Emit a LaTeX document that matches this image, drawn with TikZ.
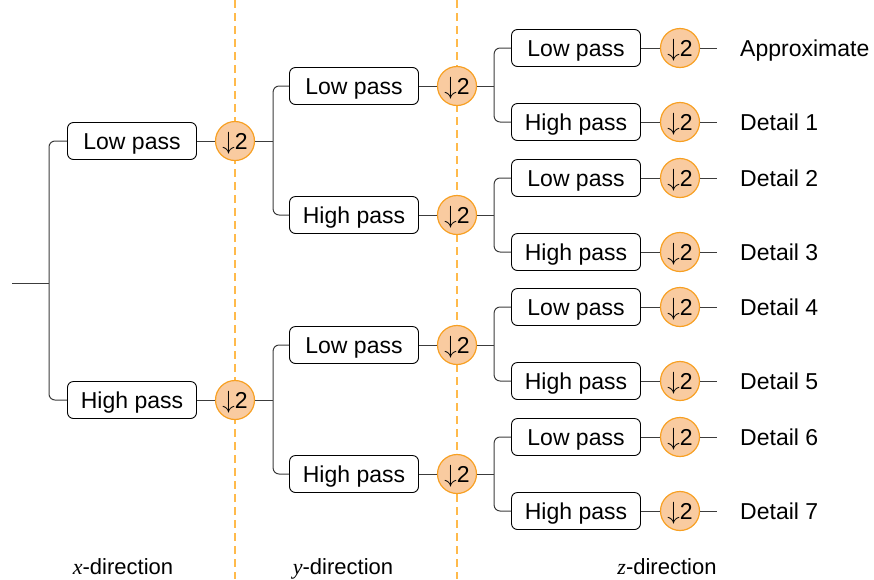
\documentclass[tikz,border=0pt]{standalone}
\usepackage{fontspec}
\setmainfont{Liberation Sans}
\newfontfamily\dirfont{Liberation Serif}

\definecolor{dsfill}{RGB}{249,203,160}
\definecolor{dsborder}{RGB}{247,160,35}
\definecolor{dashorange}{RGB}{255,186,75}
\definecolor{linegray}{RGB}{60,60,60}

\begin{document}
\begin{tikzpicture}[
    x=1pt, y=-1pt,
    filt/.style={draw=black, line width=0.9pt, fill=white, rounded corners=6pt,
      minimum width=129pt, minimum height=37pt, inner sep=0pt, text height=16.5pt,
      text depth=0pt, font=\fontsize{23}{27}\selectfont},
    down/.style={circle, draw=dsborder, line width=1.2pt, fill=dsfill, minimum size=39pt,
      inner sep=0pt, text height=16.5pt, text depth=0pt, font=\fontsize{23}{27}\selectfont},
    result/.style={anchor=west, inner sep=0pt, text height=16.5pt, text depth=0pt,
      font=\fontsize{23}{27}\selectfont},
    dirlabel/.style={anchor=base, inner sep=0pt, font=\fontsize{22}{26}\selectfont},
    link/.style={draw=linegray, line width=1pt},
    branch/.style={link, rounded corners=6pt},
    sep/.style={draw=dashorange, line width=1.2pt, dash pattern=on 8pt off 5pt}
  ]
  \useasboundingbox (0,0) rectangle (874,579);

  % Linee di separazione tra le direzioni
  \draw[sep] (235,0) -- (235,579);
  \draw[sep] (457,0) -- (457,579);

  % Direzione x
  \node[filt] (f11) at (132,141) {Low pass};
  \node[filt] (f12) at (132,400) {High pass};
  \node[down] (c11) at (235,141) {$\downarrow$2};
  \node[down] (c12) at (235,400) {$\downarrow$2};

  % Direzione y
  \foreach \i/\y/\t in {1/86/Low, 2/215/High, 3/345/Low, 4/474/High} {
    \node[filt] (f2\i) at (354,\y) {\t{} pass};
    \node[down] (c2\i) at (457,\y) {$\downarrow$2};
  }

  % Direzione z
  \foreach \i/\y/\t/\res in {1/48/Low/Approximate, 2/122/High/Detail 1,
      3/178/Low/Detail 2, 4/252/High/Detail 3, 5/307/Low/Detail 4,
      6/381/High/Detail 5, 7/437/Low/Detail 6, 8/511/High/Detail 7} {
    \node[filt] (f3\i) at (576,\y) {\t{} pass};
    \node[down] (c3\i) at (680,\y) {$\downarrow$2};
    \node[result] (r\i) at (740,\y) {\res};
  }

  % Etichette delle direzioni
  \node[dirlabel] (xdir) at (123,574) {{\dirfont\itshape x}-direction};
  \node[dirlabel] (ydir) at (343,574) {{\dirfont\itshape y}-direction};
  \node[dirlabel] (zdir) at (667,574) {{\dirfont\itshape z}-direction};

  % Collegamenti
  \coordinate (in) at (12,283);
  \draw[link] (in) -- ++(37,0) coordinate (s0);
  \draw[branch] (f11.west) -| (s0) |- (f12.west);
  \foreach \p in {1,2} {
    \draw[link] (f1\p.east) -- (c1\p.west);
  }
  \foreach \p/\a/\b in {1/1/2, 2/3/4} {
    \draw[link] (c1\p.east) -- ++(18,0) coordinate (s1\p);
    \draw[branch] (f2\a.west) -| (s1\p) |- (f2\b.west);
  }
  \foreach \p/\a/\b in {1/1/2, 2/3/4, 3/5/6, 4/7/8} {
    \draw[link] (f2\p.east) -- (c2\p.west);
    \draw[link] (c2\p.east) -- ++(17,0) coordinate (s2\p);
    \draw[branch] (f3\a.west) -| (s2\p) |- (f3\b.west);
  }
  \foreach \i in {1,...,8} {
    \draw[link] (f3\i.east) -- (c3\i.west);
    \draw[link] (c3\i.east) -- ++(17,0) coordinate (t\i);
  }

\end{tikzpicture}
\end{document}
